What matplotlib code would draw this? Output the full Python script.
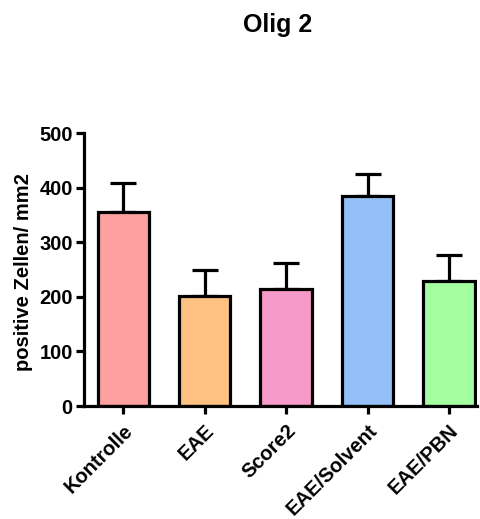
import matplotlib
matplotlib.use("Agg")
import matplotlib.pyplot as plt
import numpy as np

plt.rcParams['font.family'] = ['Liberation Sans', 'DejaVu Sans']
plt.rcParams['font.weight'] = 'bold'

groups = ["Kontrolle", "EAE", "Score2", "EAE/Solvent", "EAE/PBN"]
means = [355, 201, 215, 384, 229]
sem = [54, 48, 47, 41, 47]
colors = ["#FEA0A0", "#FFC182", "#F799C9", "#94BFF8", "#A4FFA0"]
yticks = [0, 100, 200, 300, 400, 500]

fig = plt.figure(figsize=(4.81, 5.19), dpi=100)
ax = fig.add_axes([0.1746, 0.2177, 0.8171, 0.526])

x = np.arange(len(groups))
lw = 2.3
ax.errorbar(x, means, yerr=[np.zeros(len(sem)), sem], fmt='none',
            ecolor='black', elinewidth=lw, capsize=9.5, capthick=lw, zorder=1)
ax.bar(x, means, width=0.63, color=colors, edgecolor='black',
       linewidth=lw, zorder=2)

ax.set_xlim(-0.483, 4.345)
ax.set_ylim(0, 500)
ax.set_yticks(yticks)
ax.set_xticks(x)
ax.set_xticklabels(groups, rotation=45, ha='right', va='top',
                   rotation_mode='anchor', fontsize=14.5, fontweight='bold')
for lab in ax.get_yticklabels():
    lab.set_fontsize(14.5)
    lab.set_fontweight('bold')

for s in ['top', 'right']:
    ax.spines[s].set_visible(False)
for s in ['left', 'bottom']:
    ax.spines[s].set_linewidth(lw)
ax.tick_params(axis='both', width=lw, length=6, direction='out', pad=2)
ax.tick_params(axis='x', pad=5)

ax.set_ylabel("positive Zellen/ mm2", fontsize=14.5, fontweight='bold')
ax.yaxis.set_label_coords(-0.13, 0.49)
fig.text(0.578, 0.951, "Olig 2", ha='center', va='center', fontsize=18,
         fontweight='bold')

fig.savefig("out.png", dpi=100)
